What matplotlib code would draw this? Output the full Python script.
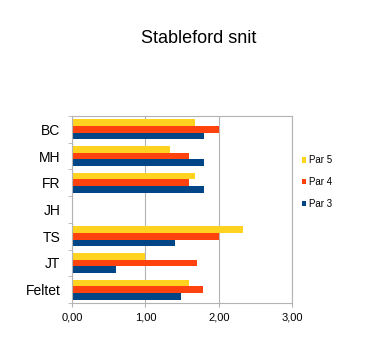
import numpy as np
import matplotlib
matplotlib.use('Agg')
import matplotlib.pyplot as plt
from matplotlib.ticker import FuncFormatter

plt.rcParams['font.family'] = ['Liberation Sans', 'DejaVu Sans']

# data
spillere = ['BC', 'MH', 'FR', 'JH', 'TS', 'JT', 'Feltet']
par5 = [1.67, 1.33, 1.67, 0, 2.33, 1.00, 1.60]
par4 = [2.00, 1.60, 1.60, 0, 2.00, 1.70, 1.78]
par3 = [1.80, 1.80, 1.80, 0, 1.40, 0.60, 1.48]

gul = '#ffd320'
orange = '#ff420e'
blaa = '#004586'
graa = '#b3b3b3'

fig = plt.figure(figsize=(3.66, 3.44), dpi=100)
ax = fig.add_axes([0.197, 0.119, 0.601, 0.544])

y = np.arange(len(spillere))
h = 0.25
ax.barh(y - h, par5, height=h, color=gul, label='Par 5')
ax.barh(y, par4, height=h, color=orange, label='Par 4')
ax.barh(y + h, par3, height=h, color=blaa, label='Par 3')

ax.set_xlim(0, 3)
ax.set_ylim(len(spillere) - 0.5, -0.5)
ax.set_xticks([0, 1, 2, 3])
ax.xaxis.set_major_formatter(FuncFormatter(lambda v, p: ('%.2f' % v).replace('.', ',')))
ax.set_yticks(y)
ax.set_yticklabels(spillere, fontsize=10)
ax.set_yticks(np.arange(len(spillere) + 1) - 0.5, minor=True)
ax.tick_params(axis='y', which='major', length=0, pad=8.5)
ax.tick_params(axis='y', which='minor', length=3, color=graa)
ax.tick_params(axis='x', length=3, color=graa, labelsize=8, pad=4)

ax.grid(axis='x', color=graa, linewidth=0.8)
ax.set_axisbelow(True)
for s in ax.spines.values():
    s.set_color(graa)
    s.set_linewidth(0.8)

fig.text(0.542, 0.887, 'Stableford snit', ha='center', va='center', fontsize=13)

leg = ax.legend(loc='upper left', bbox_to_anchor=(0.8137, 0.5596),
                bbox_transform=fig.transFigure, frameon=False, fontsize=7,
                handlelength=0.45, handleheight=0.45, handletextpad=0.3,
                labelspacing=1.2, borderaxespad=0)

fig.savefig('out.png', dpi=100)
